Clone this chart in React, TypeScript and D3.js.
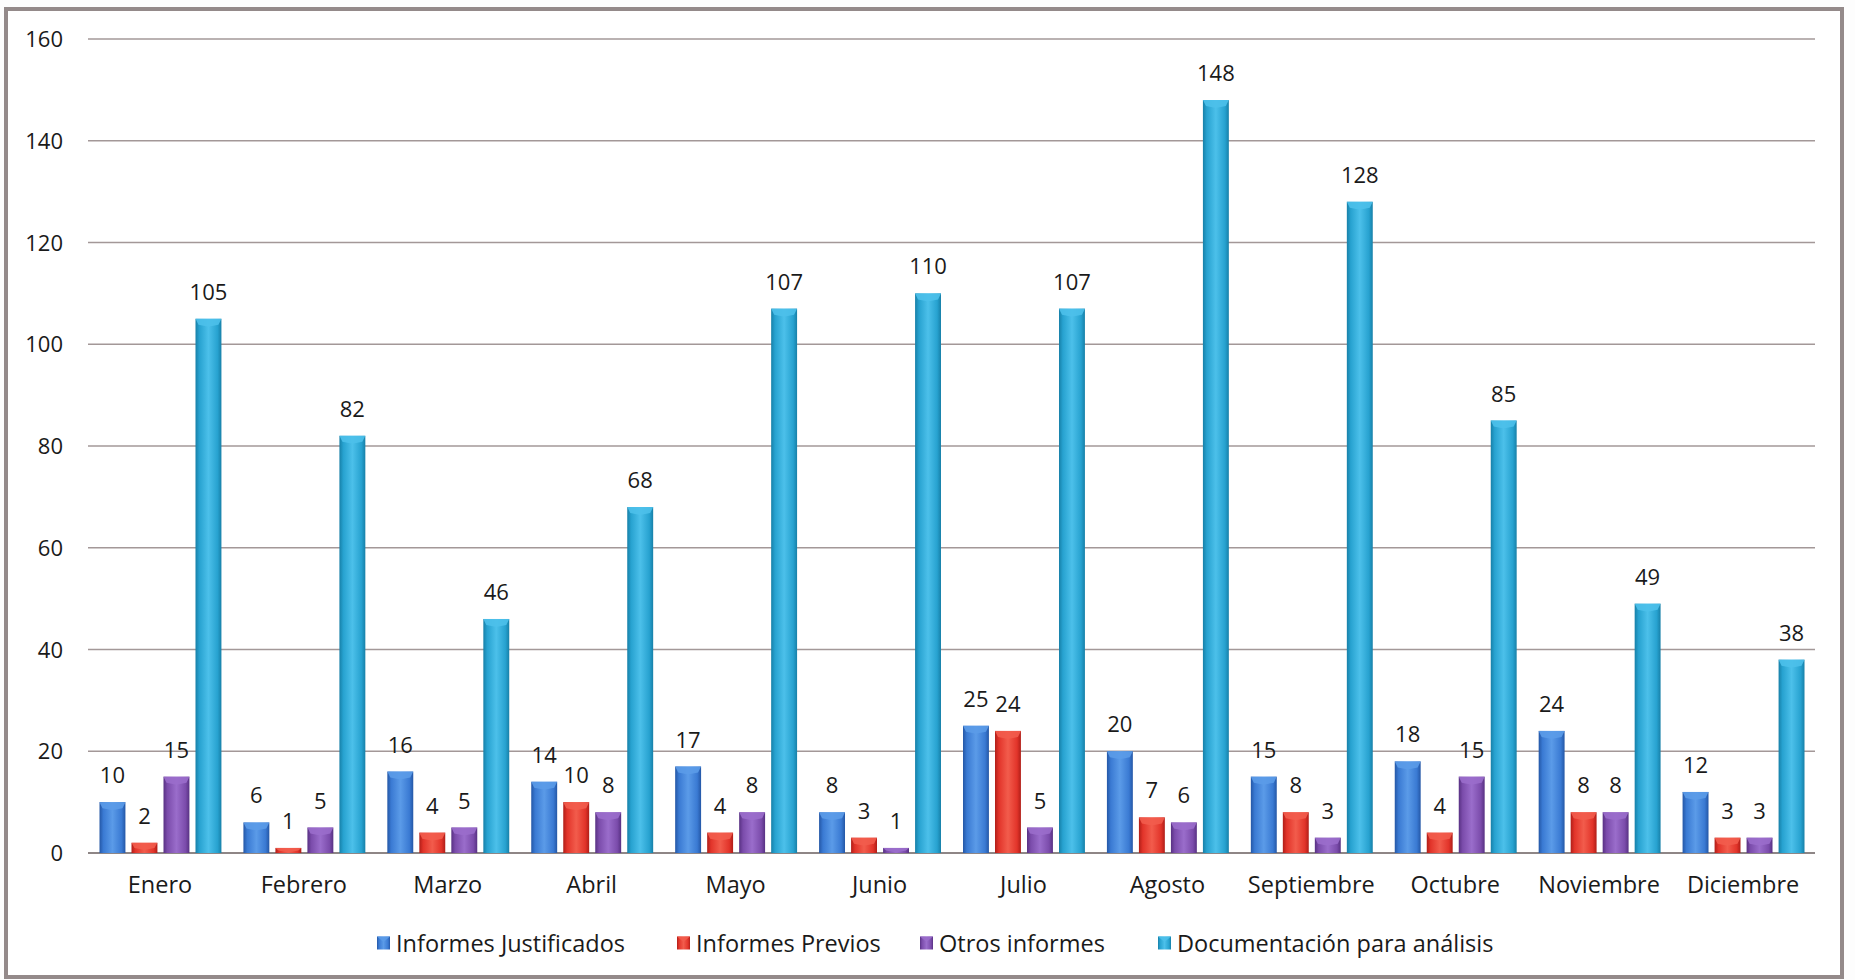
import React from "react";
import * as d3 from "d3";

const months = ["Enero","Febrero","Marzo","Abril","Mayo","Junio","Julio","Agosto","Septiembre","Octubre","Noviembre","Diciembre"];
const seriesNames = ["Informes Justificados","Informes Previos","Otros informes","Documentación para análisis"];
const justificados = [10, 6, 16, 14, 17, 8, 25, 20, 15, 18, 24, 12];
const previos = [2, 1, 4, 10, 4, 3, 24, 7, 8, 4, 8, 3];
const otros = [15, 5, 5, 8, 8, 1, 5, 6, 3, 15, 8, 3];
const documentacion = [105, 82, 46, 68, 107, 110, 107, 148, 128, 85, 49, 38];
const yTicks = [0, 20, 40, 60, 80, 100, 120, 140, 160];

const seriesValues = [justificados, previos, otros, documentacion];
const colors = [
  { base: "#3a7ad3", dark: "#2457a6", light: "#5b9be8" },
  { base: "#e2342a", dark: "#b01e18", light: "#f25c4c" },
  { base: "#7b4cab", dark: "#583183", light: "#9a6dcb" },
  { base: "#27a2d0", dark: "#1780a8", light: "#4cc0ea" },
];

const W = 1855;
const H = 980;
const FONT = "'Open Sans', Lato, sans-serif";

export default function App() {
  const x0 = d3.scaleBand<string>().domain(months).range([88, 1815]).paddingInner(0).paddingOuter(0);
  const gw = x0.bandwidth();
  const x1 = d3.scaleBand<string>().domain(seriesNames).range([11.5, gw - 10.5]).paddingInner(0.19).paddingOuter(0);
  const y = d3.scaleLinear().domain([0, 160]).range([853, 39]);
  const bw = x1.bandwidth();
  const legendX = [377, 677, 920, 1158];

  return (
    <svg width={W} height={H} style={{ position: "absolute", left: 0, top: 0, background: "#fff" }} fontFamily={FONT}>
      <defs>
        {colors.map((c, i) => (
          <linearGradient key={i} id={`g${i}`} x1="0" x2="1" y1="0" y2="0">
            <stop offset="0" stopColor={c.dark} />
            <stop offset="0.15" stopColor={c.base} />
            <stop offset="0.5" stopColor={c.light} />
            <stop offset="0.85" stopColor={c.base} />
            <stop offset="1" stopColor={c.dark} />
          </linearGradient>
        ))}
      </defs>
      <rect x={0} y={0} width={W} height={H} fill="#fdfdfd" />
      <rect x={6} y={9} width={1836} height={968} fill="#ffffff" stroke="#948a8a" strokeWidth={4} />
      {yTicks.map((t) => (
        <g key={t}>
          <line x1={88} x2={1815} y1={y(t)} y2={y(t)} stroke={t === 0 ? "#8e8686" : "#a39898"} strokeWidth={t === 0 ? 2 : 1.6} />
          <text x={63} y={y(t) + 8} textAnchor="end" fontSize={22} fill="#1a1a1a">{t}</text>
        </g>
      ))}
      {months.map((m, mi) => (
        <g key={m} transform={`translate(${x0(m)},0)`}>
          {seriesNames.map((s, si) => {
            const v = seriesValues[si][mi];
            const bx = x1(s)!;
            const top = y(v);
            const h = y(0) - top;
            const cap = Math.min(6, h / 2);
            return (
              <g key={s}>
                <rect x={bx} y={top} width={bw} height={h} fill={`url(#g${si})`} />
                <polygon
                  points={`${bx},${top} ${bx + bw},${top} ${bx + bw - 3},${top + cap} ${bx + bw / 2},${top + cap + 2} ${bx + 3},${top + cap}`}
                  fill={colors[si].light}
                  opacity={0.9}
                />
                <text x={bx + bw / 2} y={top - 19} textAnchor="middle" fontSize={22} fill="#1a1a1a">{v}</text>
              </g>
            );
          })}
          <text x={gw / 2} y={893} textAnchor="middle" fontSize={23.5} fill="#1a1a1a">{m}</text>
        </g>
      ))}
      {seriesNames.map((s, si) => (
        <g key={s} transform={`translate(${legendX[si]},0)`}>
          <rect x={0} y={936.5} width={13} height={13} fill={`url(#g${si})`} />
          <polygon points={`0,936.5 13,936.5 6.5,942`} fill={colors[si].light} opacity={0.9} />
          <text x={19} y={951.5} fontSize={23.5} fill="#1a1a1a">{s}</text>
        </g>
      ))}
    </svg>
  );
}
